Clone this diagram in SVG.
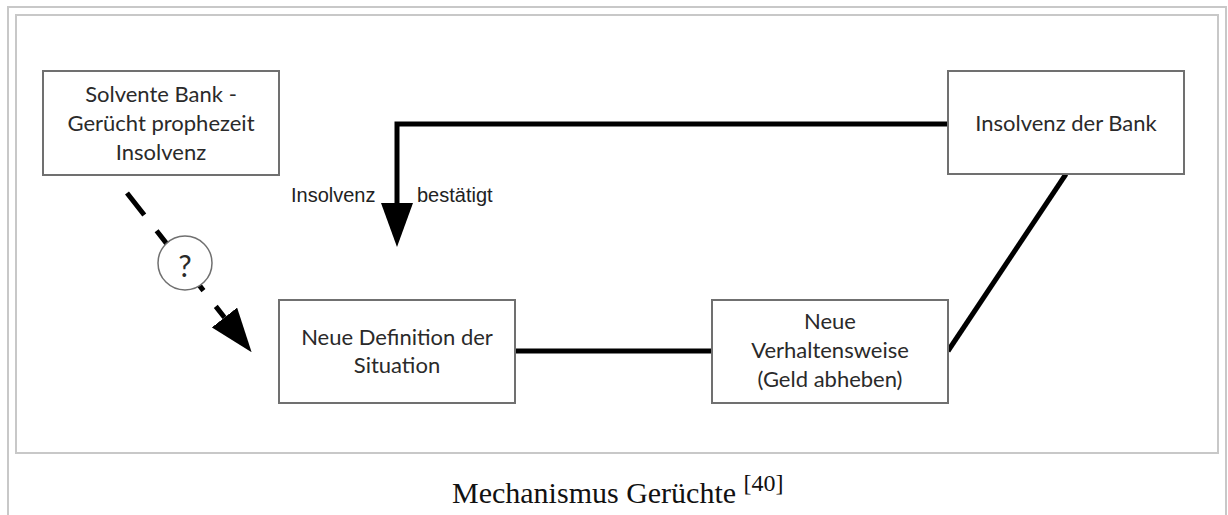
<svg xmlns="http://www.w3.org/2000/svg" width="1228" height="515" viewBox="0 0 1228 515">
  <style>
    .frame { fill: none; stroke: #c8c8c8; stroke-width: 2; }
    .box { fill: #ffffff; stroke: #707070; stroke-width: 2; }
    .btxt { font-family: Lato, "Open Sans", sans-serif; font-size: 22px; fill: #2a2a2a; text-anchor: middle; }
    .q { font-size: 30px; }
    .lbl { font-family: "Liberation Sans", Arial, sans-serif; font-size: 20px; fill: #222; }
    .conn { fill: none; stroke: #000; stroke-width: 5; }
    .cap { font-family: "Liberation Serif", "Times New Roman", serif; font-size: 30px; fill: #111; }
    .sup { font-size: 24px; }
  </style>
  <defs>
    <marker id="ah" markerUnits="userSpaceOnUse" markerWidth="44" markerHeight="32" refX="0" refY="16" orient="auto" viewBox="0 0 44 32">
      <path d="M0,0 L44,16 L0,32 Z" fill="#000"/>
    </marker>
  </defs>
  <rect width="1228" height="515" fill="#ffffff"/>
  <rect class="frame" x="8" y="7" width="1218" height="530"/>
  <rect class="frame" x="16" y="15" width="1202" height="438"/>

  <g id="connectors">
    <path class="conn" d="M948,124 H397 V203" stroke-width="6" marker-end="url(#ah)"/>
    <line class="conn" x1="515" y1="351" x2="712" y2="351"/>
    <line class="conn" x1="948" y1="351" x2="1066" y2="174"/>
    <line class="conn" x1="127" y1="193" x2="224.5" y2="317.5" stroke-width="6" stroke-dasharray="28 20" marker-end="url(#ah)"/>
    <g id="question">
      <circle cx="185" cy="263" r="27" fill="#ffffff" stroke="#707070" stroke-width="1.5"/>
      <text x="185" y="277" class="btxt q">?</text>
    </g>
    <text class="lbl" x="291" y="202">Insolvenz</text>
    <text class="lbl" x="417" y="202">bestätigt</text>
  </g>

  <g id="n-solvent">
    <rect class="box" x="43" y="71" width="236" height="104"/>
    <text class="btxt" x="161" y="102">Solvente Bank -</text>
    <text class="btxt" x="161" y="131">Gerücht prophezeit</text>
    <text class="btxt" x="161" y="160">Insolvenz</text>
  </g>
  <g id="n-insolvenz">
    <rect class="box" x="948" y="71" width="236" height="103"/>
    <text class="btxt" x="1066" y="131">Insolvenz der Bank</text>
  </g>
  <g id="n-definition">
    <rect class="box" x="279" y="300" width="236" height="103"/>
    <text class="btxt" x="397" y="345">Neue Definition der</text>
    <text class="btxt" x="397" y="373">Situation</text>
  </g>
  <g id="n-verhalten">
    <rect class="box" x="712" y="300" width="236" height="103"/>
    <text class="btxt" x="830" y="329">Neue</text>
    <text class="btxt" x="830" y="358">Verhaltensweise</text>
    <text class="btxt" x="830" y="387">(Geld abheben)</text>
  </g>

  <text class="cap" x="452" y="503">Mechanismus Gerüchte <tspan class="sup" dy="-12">[40]</tspan></text>
</svg>
